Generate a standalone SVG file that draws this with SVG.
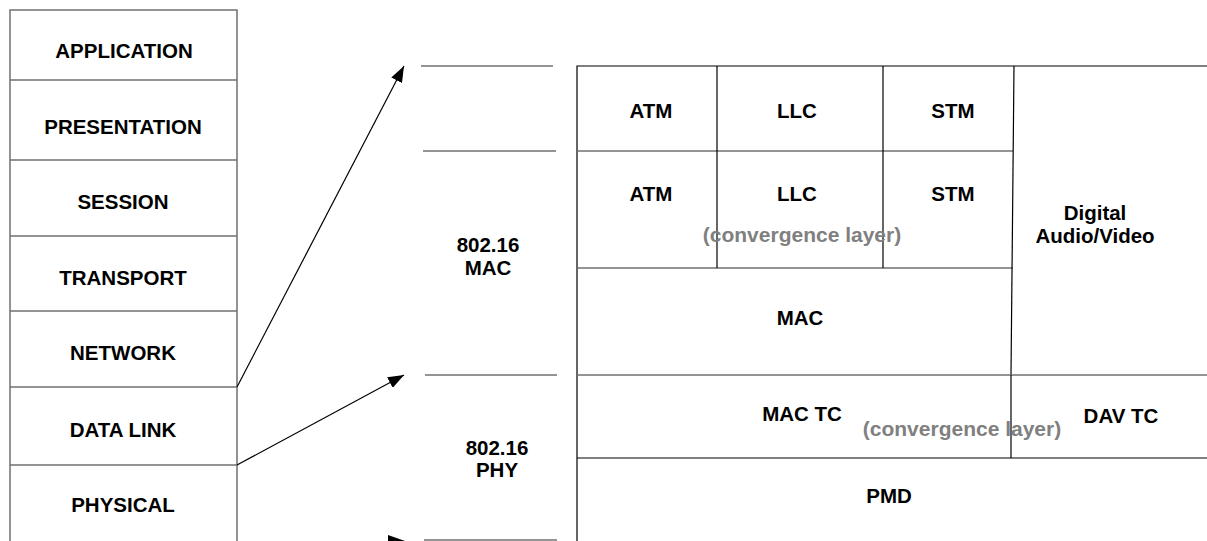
<svg xmlns="http://www.w3.org/2000/svg" width="1207" height="541" viewBox="0 0 1207 541">
<defs>
<marker id="ah" viewBox="0 0 16 12" refX="16" refY="6" markerWidth="16" markerHeight="12" markerUnits="userSpaceOnUse" orient="auto">
<path d="M0,0 L16,6 L0,12 Z" fill="#000"/>
</marker>
</defs>
<style>
text{font-family:"Liberation Sans",Arial,sans-serif;font-weight:bold;font-size:20.5px;fill:#000;text-anchor:middle}
.conv{fill:#808080;font-size:21px}
.g{stroke:#707070;stroke-width:1.5;fill:none}
.k{stroke:#000;stroke-width:1.2;fill:none}
.arr{stroke:#000;stroke-width:1.2;fill:none}
</style>
<rect width="1207" height="541" fill="#fff"/>

<g id="osi">
<path class="g" d="M10,541 V10 H237 V541"/>
<g id="application"><text x="124" y="58">APPLICATION</text></g>
<path class="g" d="M10,80 H237"/>
<g id="presentation"><text x="123" y="134">PRESENTATION</text></g>
<path class="g" d="M10,160 H237"/>
<g id="session"><text x="123" y="209">SESSION</text></g>
<path class="g" d="M10,236 H237"/>
<g id="transport"><text x="123" y="285">TRANSPORT</text></g>
<path class="g" d="M10,311 H237"/>
<g id="network"><text x="123" y="360">NETWORK</text></g>
<path class="g" d="M10,387 H237"/>
<g id="datalink"><text x="123" y="437">DATA LINK</text></g>
<path class="g" d="M10,465 H237"/>
<g id="physical"><text x="123" y="512">PHYSICAL</text></g>
</g>

<g id="connectors">
<line class="arr" x1="237" y1="387" x2="404" y2="66" marker-end="url(#ah)"/>
<line class="arr" x1="237" y1="465" x2="404" y2="375" marker-end="url(#ah)"/>
<polygon points="388,535 405,541 388,547" fill="#000"/>
</g>

<g id="brackets">
<path class="g" d="M421,66 H553"/>
<path class="g" d="M423,151 H556"/>
<path class="g" d="M425,375 H557"/>
<path class="g" d="M424,540 H557"/>
<g id="mac802"><text x="488" y="252">802.16</text><text x="488" y="275">MAC</text></g>
<g id="phy802"><text x="497" y="455">802.16</text><text x="497" y="477">PHY</text></g>
</g>

<g id="grid">
<path class="k" d="M577,541 V66 H1207"/>
<path class="g" d="M577,151 H1013"/>
<path class="g" d="M577,268 H1013"/>
<path class="k" d="M717,66 V268"/>
<path class="k" d="M883,66 V268"/>
<path class="k" d="M1014,66 L1011,375"/>
<path class="g" d="M577,375 H1207"/>
<path class="k" d="M1011,375 V458"/>
<path class="k" d="M577,458 H1207"/>
</g>

<g id="atm1"><text x="651" y="118">ATM</text></g>
<g id="llc1"><text x="797" y="118">LLC</text></g>
<g id="stm1"><text x="953" y="118">STM</text></g>
<g id="atm2"><text x="651" y="201">ATM</text></g>
<g id="llc2"><text x="797" y="201">LLC</text></g>
<g id="stm2"><text x="953" y="201">STM</text></g>
<g id="conv1"><text class="conv" x="802" y="242">(convergence layer)</text></g>
<g id="dav"><text x="1095" y="220">Digital</text><text x="1095" y="243">Audio/Video</text></g>
<g id="mac"><text x="800" y="325">MAC</text></g>
<g id="mactc"><text x="802" y="421">MAC TC</text></g>
<g id="conv2"><text class="conv" x="962" y="436">(convergence layer)</text></g>
<g id="davtc"><text x="1121" y="423">DAV TC</text></g>
<g id="pmd"><text x="889" y="503">PMD</text></g>
</svg>
